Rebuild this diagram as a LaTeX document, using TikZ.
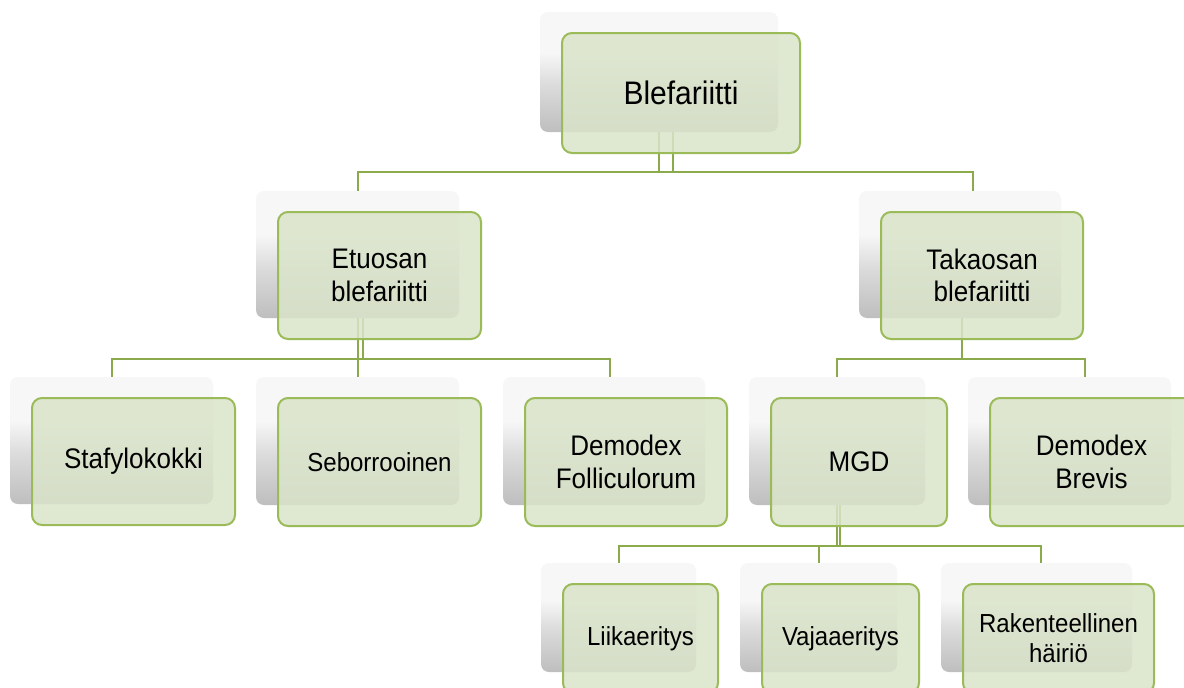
\documentclass[tikz,border=0pt]{standalone}
\usepackage{fontspec}
\setmainfont{Liberation Sans}
\newfontfamily\cfont[FakeStretch=0.92]{Liberation Sans}
\usetikzlibrary{backgrounds}
\pgfdeclarelayer{bottom}
\pgfsetlayers{bottom,background,main}
\definecolor{ogreen}{HTML}{9BBB59}
\definecolor{gfill}{HTML}{DAE4CA}
\definecolor{cline}{HTML}{8AAA4C}
\definecolor{shA}{HTML}{BEBEBE}
\definecolor{shB}{HTML}{DCDCDC}
\definecolor{shC}{HTML}{F7F7F7}
\pgfdeclareverticalshading{shgrad}{100bp}{color(0bp)=(shA); color(25bp)=(shA); color(45bp)=(shB); color(58bp)=(shC); color(75bp)=(shC); color(100bp)=(shC)}
\newcommand\fR{\cfont\fontsize{32.6}{38}\selectfont}
\newcommand\fM{\cfont\fontsize{28.3}{32.5}\selectfont}
\newcommand\fS{\cfont\fontsize{26.1}{30}\selectfont}
\tikzset{
  shbox/.style={rounded corners=8pt, shade, shading=shgrad, draw=none, inner sep=0pt, outer sep=0pt},
  gbox/.style={rounded corners=10pt, draw=ogreen, line width=2pt, fill=gfill, fill opacity=0.85, text opacity=1, text=black, align=center, inner sep=0pt, outer sep=0pt},
  conn/.style={draw=cline, line width=2pt}
}
% name, x1, y1, x2, y2, font, text
\newcommand\tb[7]{%
  \node[shbox, minimum width={(#4-#2)*1pt}, minimum height={(#5-#3)*1pt}] (s#1) at ({(#2+#4)/2-22},{(#3+#5)/2-21}) {};
  \node[gbox, minimum width={(#4-#2)*1pt}, minimum height={(#5-#3)*1pt}, font=#6] (#1) at ({(#2+#4)/2},{(#3+#5)/2}) {#7};
}
\begin{document}
\begin{tikzpicture}[x=1pt, y=-1pt]
\useasboundingbox (0,0) rectangle (1184,688);
\begin{pgfonlayer}{bottom}
\fill[white] (0,0) rectangle (1184,688);
\end{pgfonlayer}
\tb{Root}{562}{33}{800}{153}{\fR}{Blefariitti}
\tb{Et}{278}{212}{481}{339}{\fM}{Etuosan\\blefariitti}
\tb{Ta}{881}{212}{1083}{339}{\fM}{Takaosan\\blefariitti}
\tb{St}{32}{398}{235}{525}{\fM}{Stafylokokki}
\tb{Se}{278}{398}{481}{526}{\fS}{Seborrooinen}
\tb{DF}{525}{398}{727}{526}{\fM}{Demodex\\Folliculorum}
\tb{MGD}{771}{398}{947}{526}{\fM}{MGD}
\tb{DB}{990}{398}{1193}{526}{\fM}{Demodex\\Brevis}
\tb{Li}{563}{584}{718}{693}{\fS}{Liikaeritys}
\tb{Va}{762}{584}{919}{693}{\fS}{Vajaaeritys}
\tb{Ra}{963}{584}{1154}{693}{\fS}{Rakenteellinen\\häiriö}
\begin{pgfonlayer}{background}
  \draw[conn] ([xshift=14pt]sRoot.south) -- ++(0,40) -| (sEt.north);
  \draw[conn] (sRoot.south) -- ++(0,40) -| ([xshift=13pt]sTa.north);
  \draw[conn] ([xshift=5pt]sEt.south) -- ++(0,41) -| (sSt.north);
  \draw[conn] (sEt.south) -- ++(0,41) -| (sSe.north);
  \draw[conn] (sEt.south) -- ++(0,41) -| ([xshift=6pt]sDF.north);
  \draw[conn] ([xshift=2pt]sTa.south) -- ++(0,41) -| (sMGD.north);
  \draw[conn] ([xshift=2pt]sTa.south) -- ++(0,41) -| ([xshift=15pt]sDB.north);
  \draw[conn] ([xshift=3pt]sMGD.south) -- ++(0,41) -| (sLi.north);
  \draw[conn] (sMGD.south) -- ++(0,41) -| (sVa.north);
  \draw[conn] (sMGD.south) -- ++(0,41) -| ([xshift=4pt]sRa.north);
\end{pgfonlayer}
\end{tikzpicture}
\end{document}
